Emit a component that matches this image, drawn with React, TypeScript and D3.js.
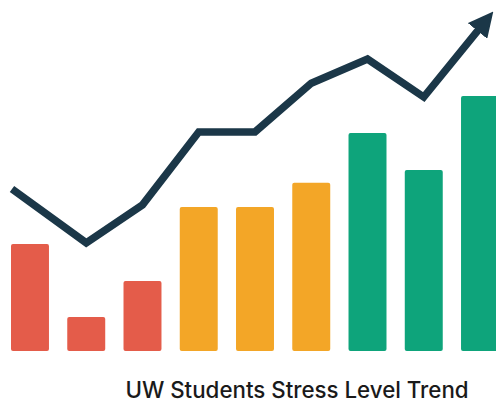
import * as d3 from 'd3'
import { useEffect, useRef } from 'react'

const categories = ['1', '2', '3', '4', '5', '6', '7', '8', '9']
const barValues = [42, 13.3, 27.5, 56.5, 56.5, 66, 85.5, 71, 100]
const barGroups = ['low', 'low', 'low', 'mid', 'mid', 'mid', 'high', 'high', 'high']
// trend line: position in bar-index units, value on same scale as bars
const trendIndex = [-0.32, 1, 2, 3, 4, 5, 6, 7, 8.04]
const trendValues = [63.5, 42.4, 57.3, 85.9, 85.9, 105, 114.5, 99.6, 127.8]
const title = 'UW Students Stress Level Trend'

const groupColors: Record<string, string> = {
    low: '#e45c4a',
    mid: '#f3a627',
    high: '#0ea47b',
}

export default function App() {
    const svgRef = useRef<SVGSVGElement>(null)
    const width = 496
    const height = 405

    useEffect(() => {
        if (!svgRef.current) return
        const svg = d3.select(svgRef.current)
        svg.selectAll('*').remove()

        const x = d3
            .scaleBand()
            .domain(categories)
            .range([11, 499])
            .paddingInner(0.325)
            .paddingOuter(0)

        const y = d3.scaleLinear().domain([0, 100]).range([351, 96])

        const bw = x.bandwidth()
        const xc = d3
            .scaleLinear()
            .domain([0, categories.length - 1])
            .range([
                (x(categories[0]) || 0) + bw / 2,
                (x(categories[categories.length - 1]) || 0) + bw / 2,
            ])

        // Bars
        svg.selectAll('.bar')
            .data(barValues)
            .enter()
            .append('rect')
            .attr('class', 'bar')
            .attr('x', (_, i) => x(categories[i]) || 0)
            .attr('y', (d) => y(d))
            .attr('width', bw)
            .attr('height', (d) => y(0) - y(d))
            .attr('rx', 2)
            .attr('fill', (_, i) => groupColors[barGroups[i]])

        // Arrow marker
        svg.append('defs')
            .append('marker')
            .attr('id', 'arrow')
            .attr('viewBox', '0 0 10 10')
            .attr('refX', 3)
            .attr('refY', 5)
            .attr('markerUnits', 'userSpaceOnUse')
            .attr('markerWidth', 25)
            .attr('markerHeight', 25)
            .attr('orient', 'auto')
            .append('path')
            .attr('d', 'M0,0 L10,5 L0,10 Z')
            .attr('fill', '#1b3748')

        // Trend line
        const line = d3
            .line<number>()
            .x((_, i) => xc(trendIndex[i]))
            .y((d) => y(d))

        svg.append('path')
            .datum(trendValues)
            .attr('d', line)
            .attr('fill', 'none')
            .attr('stroke', '#1b3748')
            .attr('stroke-width', 7.5)
            .attr('stroke-linejoin', 'miter')
            .attr('marker-end', 'url(#arrow)')

        // Title
        svg.append('text')
            .attr('x', 297)
            .attr('y', 398)
            .attr('text-anchor', 'middle')
            .style('font-family', 'Inter, "Liberation Sans", Arial, sans-serif')
            .style('font-size', '22.3px')
            .style('font-weight', 500)
            .attr('fill', '#1a1a1a')
            .text(title)
    }, [])

    return (
        <div style={{ position: 'absolute', left: 0, top: 0 }}>
            <svg ref={svgRef} width={width} height={height} style={{ display: 'block', background: '#fff' }} />
        </div>
    )
}
